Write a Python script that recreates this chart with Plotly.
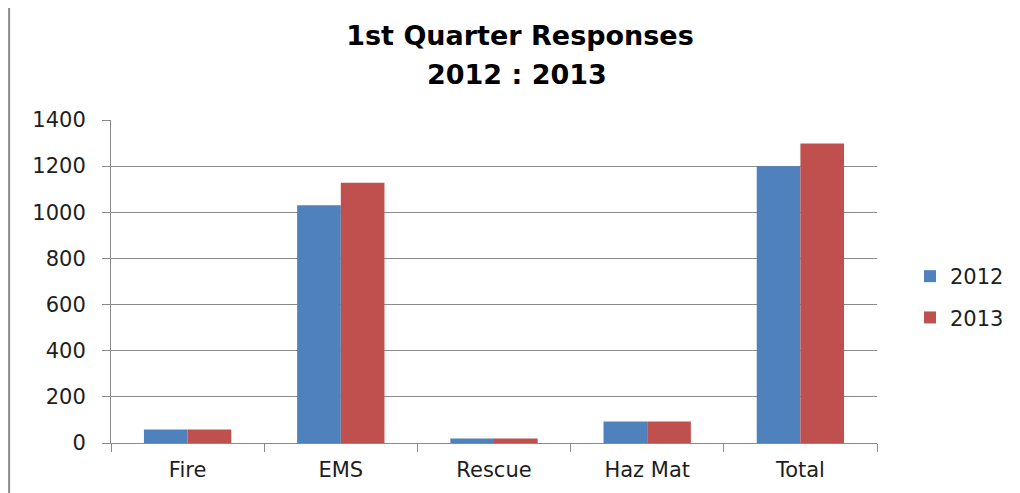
import plotly.graph_objects as go

categories = ["Fire", "EMS", "Rescue", "Haz Mat", "Total"]
values_2012 = [58, 1030, 19, 93, 1200]
values_2013 = [58, 1128, 19, 93, 1298]
y_ticks = [0, 200, 400, 600, 800, 1000, 1200, 1400]

# page has an 8px body margin, so figure coords = browser coords - 8
OFF = 8
W, H = 1020 - OFF, 493 - OFF
L, R, T, B = 111 - OFF, 878 - OFF, 120 - OFF, 443 - OFF

def px_x(p):  # browser px -> paper
    return (p - OFF - L) / (R - L)

def px_y(p):
    return (B - (p - OFF)) / (B - T)

FONT = "DejaVu Sans"
GRID = "#8a8a8a"

fig = go.Figure()
fig.add_trace(go.Bar(name="2012", x=categories, y=values_2012, marker_color="#4f81bd",
                     marker_line_width=0, legendgroup="a"))
fig.add_trace(go.Bar(name="2013", x=categories, y=values_2013, marker_color="#c0504d",
                     marker_line_width=0, legendgroup="b"))

fig.update_layout(
    width=W, height=H,
    margin=dict(l=L, r=W - R, t=T, b=H - B, pad=0),
    paper_bgcolor="white", plot_bgcolor="white",
    barmode="group", bargap=0.43, bargroupgap=0,
    font=dict(family=FONT, size=21, color="#1e1e1e"),
    title=dict(text="<b>1st Quarter Responses</b>", x=(520 - OFF) / W, xanchor="center",
               y=1 - (36 - OFF) / H, yanchor="middle", yref="container",
               font=dict(family=FONT, size=27, color="black")),
    legend=dict(x=px_x(910), xanchor="left", y=px_y(256), yanchor="top",
                font=dict(family=FONT, size=21, color="#1e1e1e"),
                tracegroupgap=11, bgcolor="rgba(0,0,0,0)"),
    showlegend=True,
)
fig.add_annotation(text="<b>2012 : 2013</b>", xref="paper", yref="paper",
                   x=px_x(518), y=px_y(75), xanchor="center", yanchor="middle",
                   showarrow=False, font=dict(family=FONT, size=27, color="black"))

fig.update_yaxes(range=[0, 1400], tickvals=y_ticks, showgrid=True, gridcolor=GRID,
                 gridwidth=1, showline=True, linecolor=GRID, linewidth=1,
                 ticks="outside", ticklen=8, tickcolor=GRID, ticklabelstandoff=12,
                 zeroline=False)
fig.update_xaxes(showline=True, linecolor=GRID, linewidth=1, ticks="outside",
                 tickson="boundaries", ticklen=8, tickcolor=GRID,
                 ticklabelstandoff=8, showgrid=False)

# outer frame (left edge)
fig.add_shape(type="line", xref="paper", yref="paper", x0=px_x(9), x1=px_x(9),
              y0=px_y(0), y1=px_y(H + 20), line=dict(color="#8a8a8a", width=2))

fig.write_html("out.html")
